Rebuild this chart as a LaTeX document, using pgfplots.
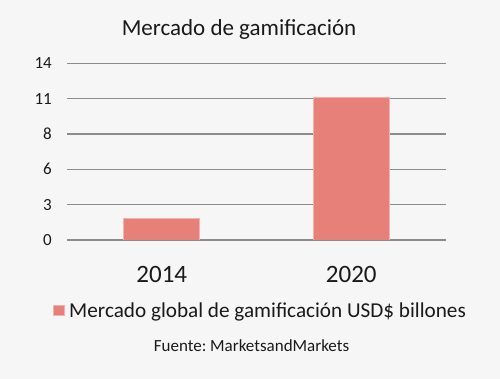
\documentclass[border=0pt]{standalone}
\usepackage{pgfplots}
\pgfplotsset{compat=1.18}
\usepackage{fontspec}
\setmainfont{Carlito}
\frenchspacing
\definecolor{bg}{HTML}{F6F6F6}
\definecolor{barc}{HTML}{E8807A}
\definecolor{gridc}{HTML}{8C8C8C}
\definecolor{txt}{HTML}{1A1A1A}
\begin{document}
\begin{tikzpicture}[x=1pt,y=1pt]
\fill[bg] (0,0) rectangle (500,379);
\useasboundingbox (0,0) rectangle (500,379);
\node[anchor=base,font=\fontsize{23}{26}\selectfont,text=txt,inner sep=0pt] at (239,343) {Mercado de gamificación};
\begin{axis}[
  at={(67pt,139pt)}, anchor=south west,
  scale only axis, width=379pt, height=176.7pt,
  xmin=-0.5, xmax=1.5, ymin=0, ymax=13.75,
  xtick={0,1}, xticklabels={2014,2020},
  ytick={0,2.75,5.5,8.25,11,13.75}, yticklabels={0,3,6,8,11,14},
  /pgf/number format/assume math mode=true,
  axis line style={draw=none},
  major tick length=0pt,
  ymajorgrids, grid style={gridc, line width=1.2pt},
  yticklabel style={font=\fontsize{17}{20}\selectfont, text=txt, inner sep=0pt, xshift=-15pt},
  xticklabel style={font=\fontsize{25}{28}\selectfont, text=txt, inner sep=0pt, yshift=-26pt},
  legend style={at={(0.51,-0.40)}, anchor=center, draw=none, fill=none,
    font=\fontsize{21.2}{24}\selectfont, text=txt},
  legend image code/.code={\fill[#1] (0pt,-5pt) rectangle (11pt,5pt);},
]
\addplot[ybar, bar width=76pt, fill=barc, draw=barc!60!white, line width=0.6pt] coordinates {(0,1.65) (1,11.1)};
\addlegendentry{\hspace*{3pt}Mercado global de gamificación USD\$ billones}
\end{axis}
\node[anchor=base,font=\fontsize{17}{20}\selectfont,text=txt,inner sep=0pt] at (251.5,27.3) {Fuente: MarketsandMarkets};
\end{tikzpicture}
\end{document}
